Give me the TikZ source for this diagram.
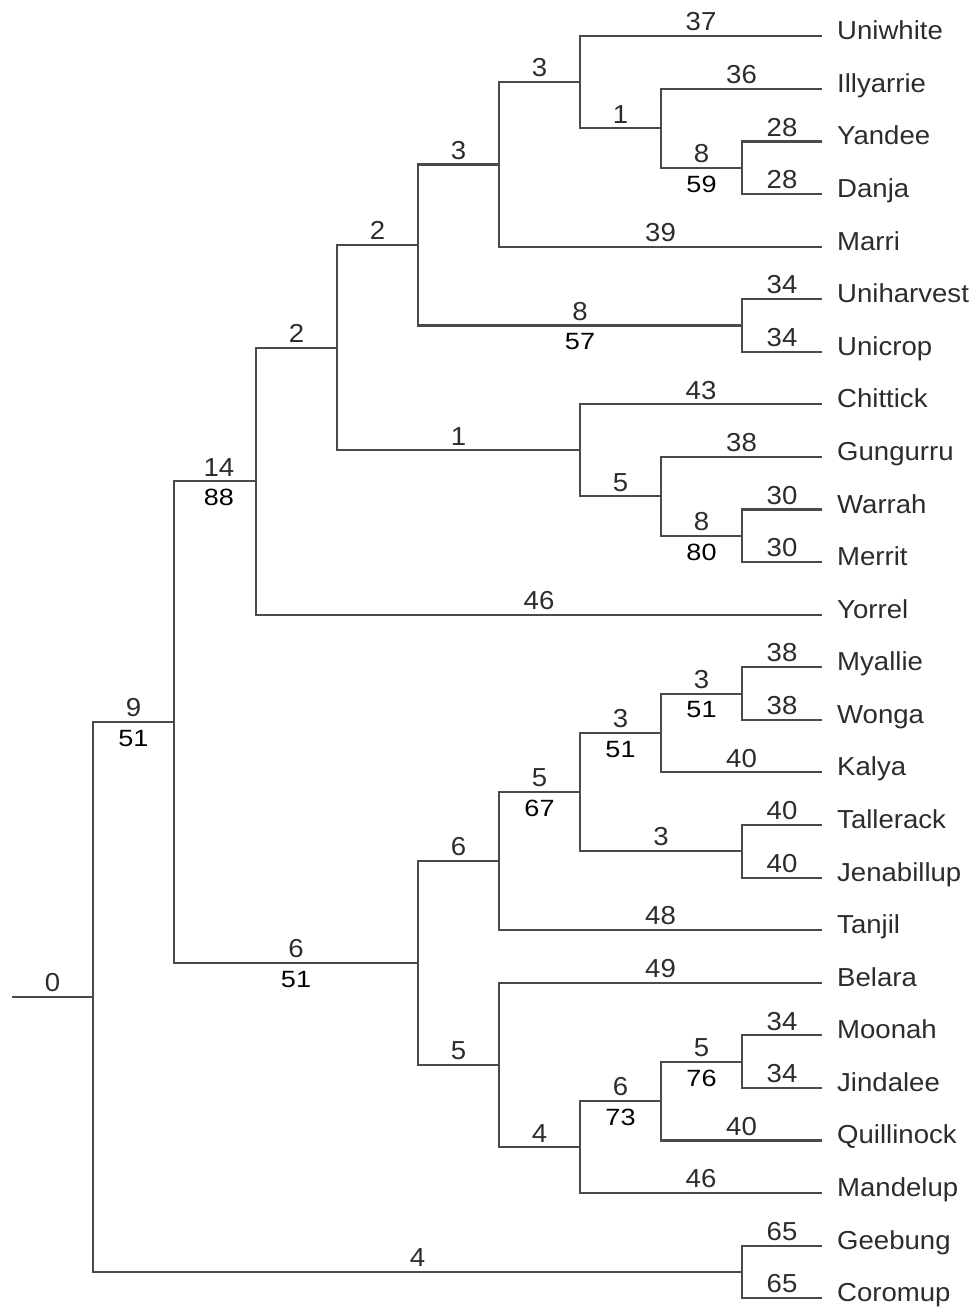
\documentclass[tikz,border=0pt]{standalone}
\usepackage{fontspec}
\setmainfont{Liberation Sans}[FakeStretch=1.06]
\newfontfamily\bootfont{Liberation Sans}[FakeStretch=1.15]
\definecolor{edge}{RGB}{74,74,74}
\definecolor{ink}{RGB}{44,44,48}
% row position of leaf i (rows are 52.58 units apart)
\def\row#1{{36.3+52.58*(#1)}}
\tikzset{
  branch/.style={draw=edge, line width=2.1pt},
  len/.style={pos=0.75, anchor=south, inner sep=0pt, yshift=4pt, text=ink,
              font=\fontsize{26}{30}\selectfont},
  boot/.style={pos=0.75, anchor=north, inner sep=0pt, yshift=-7pt, text=black,
               font=\bootfont\fontsize{23.5}{27}\selectfont},
  taxon/.style={anchor=base west, inner sep=0pt, xshift=15pt, yshift=-3.5pt,
                text=ink, font=\fontsize{26}{30}\selectfont},
}
\begin{document}
\begin{tikzpicture}[x=1pt, y=-1pt]
\useasboundingbox (0,0) rectangle (974,1313);

% ---- leaf tips and names ----
\foreach \name [count=\i from 0] in {Uniwhite,Illyarrie,Yandee,Danja,Marri,
    Uniharvest,Unicrop,Chittick,Gungurru,Warrah,Merrit,Yorrel,Myallie,Wonga,
    Kalya,Tallerack,Jenabillup,Tanjil,Belara,Moonah,Jindalee,Quillinock,
    Mandelup,Geebung,Coromup}{
  \coordinate (\name) at (822,\row{\i});
  \node[taxon] (\name-label) at (\name) {\name};
}

% ---- internal nodes (x by height, y midway between children) ----
\coordinate (nYD)  at (742,\row{2.5});
\coordinate (nIYD) at (661,\row{1.75});
\coordinate (nUw)  at (580,\row{0.875});
\coordinate (nMa)  at (499,\row{2.4375});
\coordinate (nUU)  at (742,\row{5.5});
\coordinate (nA)   at (418,\row{3.96875});
\coordinate (nWM)  at (742,\row{9.5});
\coordinate (nGu)  at (661,\row{8.75});
\coordinate (nCh)  at (580,\row{7.875});
\coordinate (nB)   at (337,\row{5.921875});
\coordinate (nC)   at (256,\row{8.4609375});
\coordinate (nMW)  at (742,\row{12.5});
\coordinate (nKa)  at (661,\row{13.25});
\coordinate (nTJ)  at (742,\row{15.5});
\coordinate (nD)   at (580,\row{14.375});
\coordinate (nTa)  at (499,\row{15.6875});
\coordinate (nMJ)  at (742,\row{19.5});
\coordinate (nQu)  at (661,\row{20.25});
\coordinate (nMd)  at (580,\row{21.125});
\coordinate (nBe)  at (499,\row{19.5625});
\coordinate (nE)   at (418,\row{17.625});
\coordinate (nF)   at (174,\row{13.04296875});
\coordinate (nGC)  at (742,\row{23.5});
\coordinate (root) at (93,\row{18.271484375});
\coordinate (stem) at (12,\row{18.271484375});

% ---- branches ----
\draw[branch] (stem) -- node[len, pos=0.5] {0} (root);

\draw[branch] (root) |- node[len] {9} node[boot] {51} (nF);
\draw[branch] (root) |- node[len] {4} (nGC);

\draw[branch] (nF) |- node[len, xshift=4pt] {14} node[boot, xshift=4pt] {88} (nC);
\draw[branch] (nF) |- node[len] {6} node[boot] {51} (nE);

\draw[branch] (nC) |- node[len] {2} (nB);
\draw[branch] (nC) |- node[len] {46} (Yorrel);

\draw[branch] (nB) |- node[len] {2} (nA);
\draw[branch] (nB) |- node[len] {1} (nCh);

\draw[branch] (nA) |- node[len] {3} (nMa);
\draw[branch] (nA) |- node[len] {8} node[boot] {57} (nUU);

\draw[branch] (nMa) |- node[len] {3} (nUw);
\draw[branch] (nMa) |- node[len] {39} (Marri);

\draw[branch] (nUw) |- node[len] {37} (Uniwhite);
\draw[branch] (nUw) |- node[len] {1} (nIYD);

\draw[branch] (nIYD) |- node[len] {36} (Illyarrie);
\draw[branch] (nIYD) |- node[len] {8} node[boot] {59} (nYD);

\draw[branch] (nYD) |- node[len] {28} (Yandee);
\draw[branch] (nYD) |- node[len] {28} (Danja);

\draw[branch] (nUU) |- node[len] {34} (Uniharvest);
\draw[branch] (nUU) |- node[len] {34} (Unicrop);

\draw[branch] (nCh) |- node[len] {43} (Chittick);
\draw[branch] (nCh) |- node[len] {5} (nGu);

\draw[branch] (nGu) |- node[len] {38} (Gungurru);
\draw[branch] (nGu) |- node[len] {8} node[boot] {80} (nWM);

\draw[branch] (nWM) |- node[len] {30} (Warrah);
\draw[branch] (nWM) |- node[len] {30} (Merrit);

\draw[branch] (nE) |- node[len] {6} (nTa);
\draw[branch] (nE) |- node[len] {5} (nBe);

\draw[branch] (nTa) |- node[len] {5} node[boot] {67} (nD);
\draw[branch] (nTa) |- node[len] {48} (Tanjil);

\draw[branch] (nD) |- node[len] {3} node[boot] {51} (nKa);
\draw[branch] (nD) |- node[len] {3} (nTJ);

\draw[branch] (nKa) |- node[len] {3} node[boot] {51} (nMW);
\draw[branch] (nKa) |- node[len] {40} (Kalya);

\draw[branch] (nMW) |- node[len] {38} (Myallie);
\draw[branch] (nMW) |- node[len] {38} (Wonga);

\draw[branch] (nTJ) |- node[len] {40} (Tallerack);
\draw[branch] (nTJ) |- node[len] {40} (Jenabillup);

\draw[branch] (nBe) |- node[len] {49} (Belara);
\draw[branch] (nBe) |- node[len] {4} (nMd);

\draw[branch] (nMd) |- node[len] {6} node[boot] {73} (nQu);
\draw[branch] (nMd) |- node[len] {46} (Mandelup);

\draw[branch] (nQu) |- node[len] {5} node[boot] {76} (nMJ);
\draw[branch] (nQu) |- node[len] {40} (Quillinock);

\draw[branch] (nMJ) |- node[len] {34} (Moonah);
\draw[branch] (nMJ) |- node[len] {34} (Jindalee);

\draw[branch] (nGC) |- node[len] {65} (Geebung);
\draw[branch] (nGC) |- node[len] {65} (Coromup);
\end{tikzpicture}
\end{document}
